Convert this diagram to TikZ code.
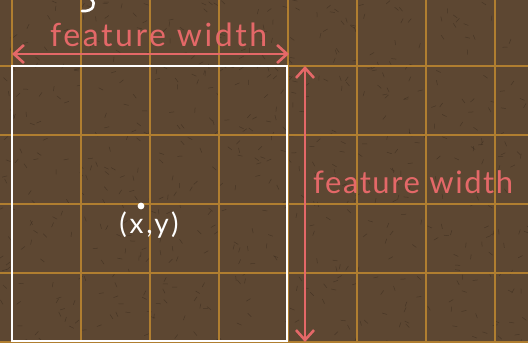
\documentclass[tikz,border=0pt]{standalone}
\usepackage{fontspec}
\setmainfont{Lato}
\usetikzlibrary{arrows.meta}
\definecolor{paper}{RGB}{93,71,50}
\definecolor{fleck}{RGB}{58,44,31}
\definecolor{gridline}{RGB}{176,126,48}
\definecolor{pen}{RGB}{228,104,104}

\begin{document}
\begin{tikzpicture}[x=1pt,y=-1pt,
  dim/.style={{Straight Barb[length=10pt,width=18pt]}-{Straight Barb[length=10pt,width=18pt]},line width=2.6pt,pen},
  hand/.style={pen,font=\fontsize{32}{32}\selectfont\addfontfeatures{LetterSpace=8},inner sep=0pt}]
  % Board
  \fill[paper] (0,0) rectangle (528,343);
  \useasboundingbox (0,0) rectangle (528,343);
  % Texture
  \pgfmathsetseed{11}
  \foreach \i in {1,...,600}{
    \pgfmathsetmacro{\px}{rnd*528}
    \pgfmathsetmacro{\py}{rnd*343}
    \pgfmathsetmacro{\pa}{rnd*180}
    \draw[fleck,opacity=0.6,line width=0.5pt] (\px,\py) -- ++(\pa:5);
  }
  % Grid
  \foreach \k in {0,...,7}
    \draw[gridline,line width=1.3pt] (12+69*\k,0) -- (12+69*\k,343);
  \foreach \k in {0,...,4}
    \draw[gridline,line width=1.3pt] (0,66+69*\k) -- (528,66+69*\k);
  % Feature square
  \coordinate (tl) at (12,66);
  \coordinate (br) at (287,341);
  \draw[white,line width=2.6pt] (tl) rectangle (br);
  % Dimension arrows
  \coordinate (wl) at (12,54);
  \coordinate (wr) at (289,54);
  \draw[dim] (wl) -- (wr);
  \coordinate (ht) at (305,66);
  \coordinate (hb) at (305,342);
  \draw[dim] (ht) -- (hb);
  % Labels
  \node[hand,anchor=base west] (wlabel) at (50,46) {feature width};
  \node[hand,anchor=base west,font=\fontsize{31}{31}\selectfont\addfontfeatures{LetterSpace=5}] (hlabel) at (313,193) {feature width};
  % Point
  \fill[white] (141,206) circle (3.4);
  \node[white,font=\fontsize{28}{28}\selectfont\addfontfeatures{LetterSpace=10},anchor=base,inner sep=0pt] (pt) at (149,233) {(x,y)};
  % Cut-off stroke at top
  \draw[white,line width=2.6pt,line cap=round] (91,-1) .. controls (97,4) and (93,12) .. (82,11);
\end{tikzpicture}
\end{document}
